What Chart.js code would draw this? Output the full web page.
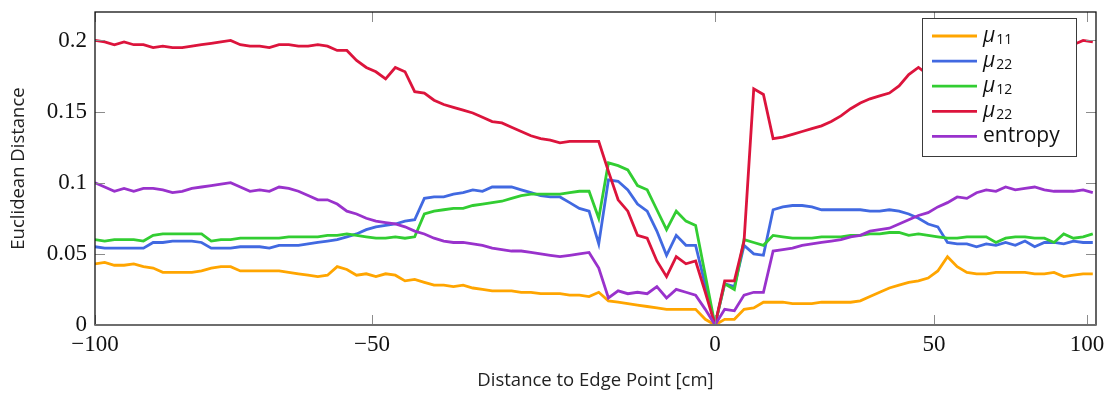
<!DOCTYPE html>
<html>
<head>
<meta charset="utf-8">
<script src="https://cdn.jsdelivr.net/npm/chart.js@4.4.1/dist/chart.umd.min.js"></script>
<style>
	html, body { margin: 0; padding: 0; background: #fff; }
</style>
</head>
<body>
<canvas id="chart" width="1113" height="394"></canvas>
<script>
"use strict";

// x axis: distance labels (cm) and the sample position each label sits at
var xTickLabels = [-100, -50, 0, 50, 100];
var xTickSamples = [0, 28.6, 64, 86.6, 102.4];
var yTicks = [0, 0.05, 0.1, 0.15, 0.2];

var mu11 = [
	0.043, 0.044, 0.042, 0.042, 0.043, 0.041, 0.040, 0.037, 0.037, 0.037,
	0.037, 0.038, 0.040, 0.041, 0.041, 0.038, 0.038, 0.038, 0.038, 0.038,
	0.037, 0.036, 0.035, 0.034, 0.035, 0.041, 0.039, 0.035, 0.036, 0.034,
	0.036, 0.035, 0.031, 0.032, 0.030, 0.028, 0.028, 0.027, 0.028, 0.026,
	0.025, 0.024, 0.024, 0.024, 0.023, 0.023, 0.022, 0.022, 0.022, 0.021,
	0.021, 0.020, 0.023, 0.017, 0.016, 0.015, 0.014, 0.013, 0.012, 0.011,
	0.011, 0.011, 0.011, 0.004, 0.000, 0.004, 0.004, 0.011, 0.012, 0.016,
	0.016, 0.016, 0.015, 0.015, 0.015, 0.016, 0.016, 0.016, 0.016, 0.017,
	0.020, 0.023, 0.026, 0.028, 0.030, 0.031, 0.033, 0.038, 0.048, 0.041,
	0.037, 0.036, 0.036, 0.037, 0.037, 0.037, 0.037, 0.036, 0.036, 0.037,
	0.034, 0.035, 0.036, 0.036
];

var mu22a = [
	0.055, 0.054, 0.054, 0.054, 0.054, 0.054, 0.058, 0.058, 0.059, 0.059,
	0.059, 0.058, 0.054, 0.054, 0.054, 0.055, 0.055, 0.055, 0.054, 0.056,
	0.056, 0.056, 0.057, 0.058, 0.059, 0.060, 0.062, 0.064, 0.067, 0.069,
	0.070, 0.071, 0.073, 0.074, 0.089, 0.090, 0.090, 0.092, 0.093, 0.095,
	0.094, 0.097, 0.097, 0.097, 0.095, 0.093, 0.091, 0.090, 0.090, 0.086,
	0.082, 0.080, 0.057, 0.102, 0.101, 0.095, 0.085, 0.080, 0.066, 0.049,
	0.063, 0.056, 0.056, 0.028, 0.000, 0.029, 0.027, 0.056, 0.050, 0.049,
	0.081, 0.083, 0.084, 0.084, 0.083, 0.081, 0.081, 0.081, 0.081, 0.081,
	0.080, 0.080, 0.081, 0.080, 0.078, 0.075, 0.071, 0.069, 0.058, 0.057,
	0.057, 0.055, 0.057, 0.056, 0.058, 0.056, 0.059, 0.055, 0.058, 0.058,
	0.057, 0.059, 0.058, 0.058
];

var mu12 = [
	0.060, 0.059, 0.060, 0.060, 0.060, 0.059, 0.063, 0.064, 0.064, 0.064,
	0.064, 0.064, 0.059, 0.060, 0.060, 0.061, 0.061, 0.061, 0.061, 0.061,
	0.062, 0.062, 0.062, 0.062, 0.063, 0.063, 0.064, 0.063, 0.062, 0.061,
	0.061, 0.062, 0.061, 0.062, 0.078, 0.080, 0.081, 0.082, 0.082, 0.084,
	0.085, 0.086, 0.087, 0.089, 0.091, 0.092, 0.092, 0.092, 0.092, 0.093,
	0.094, 0.094, 0.075, 0.114, 0.112, 0.109, 0.098, 0.095, 0.081, 0.067,
	0.080, 0.073, 0.070, 0.035, 0.000, 0.029, 0.025, 0.060, 0.058, 0.056,
	0.063, 0.062, 0.061, 0.061, 0.061, 0.062, 0.062, 0.062, 0.063, 0.063,
	0.064, 0.064, 0.065, 0.065, 0.063, 0.064, 0.063, 0.062, 0.061, 0.061,
	0.062, 0.062, 0.062, 0.058, 0.061, 0.062, 0.062, 0.061, 0.061, 0.058,
	0.064, 0.061, 0.062, 0.064
];

var mu22b = [
	0.200, 0.199, 0.197, 0.199, 0.197, 0.197, 0.195, 0.196, 0.195, 0.195,
	0.196, 0.197, 0.198, 0.199, 0.200, 0.197, 0.196, 0.196, 0.195, 0.197,
	0.197, 0.196, 0.196, 0.197, 0.196, 0.193, 0.193, 0.186, 0.181, 0.178,
	0.173, 0.181, 0.178, 0.164, 0.163, 0.158, 0.155, 0.153, 0.151, 0.149,
	0.146, 0.143, 0.142, 0.139, 0.136, 0.133, 0.131, 0.130, 0.128, 0.129,
	0.129, 0.129, 0.129, 0.108, 0.088, 0.080, 0.063, 0.061, 0.045, 0.034,
	0.048, 0.043, 0.045, 0.023, 0.000, 0.031, 0.031, 0.059, 0.166, 0.162,
	0.131, 0.132, 0.134, 0.136, 0.138, 0.140, 0.143, 0.147, 0.152, 0.156,
	0.159, 0.161, 0.163, 0.168, 0.176, 0.181, 0.176, 0.179, 0.186, 0.191,
	0.193, 0.190, 0.193, 0.194, 0.195, 0.194, 0.196, 0.197, 0.194, 0.196,
	0.197, 0.197, 0.200, 0.199
];

var entropy = [
	0.100, 0.097, 0.094, 0.096, 0.094, 0.096, 0.096, 0.095, 0.093, 0.094,
	0.096, 0.097, 0.098, 0.099, 0.100, 0.097, 0.094, 0.095, 0.094, 0.097,
	0.096, 0.094, 0.091, 0.088, 0.088, 0.085, 0.080, 0.078, 0.075, 0.073,
	0.072, 0.071, 0.069, 0.066, 0.064, 0.061, 0.059, 0.058, 0.058, 0.057,
	0.056, 0.054, 0.053, 0.052, 0.052, 0.051, 0.050, 0.049, 0.048, 0.049,
	0.050, 0.051, 0.040, 0.019, 0.024, 0.022, 0.023, 0.022, 0.027, 0.019,
	0.025, 0.023, 0.021, 0.011, 0.000, 0.011, 0.010, 0.021, 0.023, 0.023,
	0.052, 0.053, 0.054, 0.056, 0.057, 0.058, 0.059, 0.060, 0.062, 0.063,
	0.066, 0.067, 0.068, 0.071, 0.074, 0.077, 0.079, 0.083, 0.086, 0.090,
	0.089, 0.093, 0.095, 0.094, 0.097, 0.095, 0.096, 0.097, 0.095, 0.094,
	0.094, 0.094, 0.095, 0.093
];

var seriesNames = ["μ11", "μ22", "μ12", "μ22", "entropy"];
var seriesData = [mu11, mu22a, mu12, mu22b, entropy];
var seriesColors = ["#ffa500", "#4169e1", "#32cd32", "#dc143c", "#9932cc"];

// one label per sample so the line sits on the sample index
var sampleIdx = mu11.map(function (v, i) { return i; });

function fmtMinus(v) {
	return v < 0 ? "\u2212" + Math.abs(v) : String(v);
}

// inward tick marks on all four sides plus the frame
var axisFrame = {
	id: "axisFrame",
	afterDraw: function (chart) {
		var ctx = chart.ctx, a = chart.chartArea;
		var xs = chart.scales.x, ys = chart.scales.y;
		var tl = 10;
		ctx.save();
		ctx.strokeStyle = "#8c8c8c";
		ctx.lineWidth = 1;
		ctx.beginPath();
		xs.ticks.forEach(function (t) {
			var px = Math.round(xs.getPixelForValue(t.value)) + 0.5;
			ctx.moveTo(px, a.bottom); ctx.lineTo(px, a.bottom - tl);
			ctx.moveTo(px, a.top); ctx.lineTo(px, a.top + tl);
		});
		ys.ticks.forEach(function (t) {
			var py = Math.round(ys.getPixelForValue(t.value)) + 0.5;
			ctx.moveTo(a.left, py); ctx.lineTo(a.left + tl, py);
			ctx.moveTo(a.right, py); ctx.lineTo(a.right - tl, py);
		});
		ctx.stroke();

		ctx.strokeStyle = "#111";
		ctx.lineWidth = 1.3;
		ctx.strokeRect(a.left, a.top, a.right - a.left, a.bottom - a.top);
		ctx.strokeStyle = "#6e6e6e";
		ctx.lineWidth = 2;
		ctx.beginPath();
		ctx.moveTo(a.left, a.bottom); ctx.lineTo(a.right, a.bottom);
		ctx.stroke();
		ctx.restore();
	}
};

// boxed legend in the upper right corner of the plot
var legendBox = {
	id: "legendBox",
	afterDraw: function (chart) {
		var ctx = chart.ctx, a = chart.chartArea;
		var w = 154, h = 138, rowH = 25.1;
		var x0 = a.right - 20 - w, y0 = a.top + 6;
		ctx.save();
		ctx.fillStyle = "#fff";
		ctx.fillRect(x0, y0, w, h);
		ctx.strokeStyle = "#3a3a3a";
		ctx.lineWidth = 1;
		ctx.strokeRect(x0 + 0.5, y0 + 0.5, w, h);

		chart.data.datasets.forEach(function (ds, i) {
			var cy = y0 + 18 + i * rowH;
			ctx.strokeStyle = ds.borderColor;
			ctx.lineWidth = 2.8;
			ctx.beginPath();
			ctx.moveTo(x0 + 10, cy);
			ctx.lineTo(x0 + 55, cy);
			ctx.stroke();

			ctx.fillStyle = "#111";
			ctx.textAlign = "left";
			ctx.textBaseline = "alphabetic";
			var tx = x0 + 61;
			var m = /^(μ)(\d+)$/.exec(ds.label);
			if (m) {
				ctx.font = "italic 21px 'Open Sans'";
				ctx.fillText(m[1], tx, cy + 6);
				var mw = ctx.measureText(m[1]).width;
				ctx.font = "14px 'Open Sans'";
				ctx.fillText(m[2], tx + mw + 1, cy + 7.6);
			} else {
				ctx.font = "21px 'Open Sans'";
				ctx.fillText(ds.label, tx, cy + 5.7);
			}
		});
		ctx.restore();
	}
};

var datasets = seriesNames.map(function (name, i) {
	return {
		label: name,
		data: seriesData[i],
		borderColor: seriesColors[i],
		backgroundColor: seriesColors[i],
		borderWidth: 2.8,
		pointRadius: 0,
		tension: 0,
		fill: false,
		order: seriesNames.length - i
	};
});

new Chart(document.getElementById("chart"), {
	type: "line",
	data: { labels: sampleIdx, datasets: datasets },
	options: {
		responsive: false,
		animation: false,
		devicePixelRatio: 1,
		layout: { padding: { left: 0, right: 17, top: 12, bottom: 0 } },
		plugins: {
			legend: { display: false },
			tooltip: { enabled: false }
		},
		scales: {
			x: {
				type: "linear",
				min: 0,
				max: 103.33,
				grid: { display: false, drawTicks: false },
				border: { display: false },
				afterBuildTicks: function (s) {
					s.ticks = xTickSamples.map(function (v) { return { value: v }; });
				},
				afterFit: function (s) {
					s.height = 69;
					s.paddingLeft = 0;
					s.paddingRight = 0;
				},
				ticks: {
					autoSkip: false,
					maxRotation: 0,
					padding: 6,
					color: "#111",
					font: { family: "'Liberation Serif'", size: 23 },
					callback: function (v, i) { return fmtMinus(xTickLabels[i]); }
				},
				title: {
					display: true,
					text: "Distance to Edge Point [cm]",
					color: "#222",
					font: { family: "'Open Sans'", size: 18.5 },
					padding: { top: 0, bottom: 2 }
				}
			},
			y: {
				min: 0,
				max: 0.22,
				grid: { display: false, drawTicks: false },
				border: { display: false },
				afterBuildTicks: function (s) {
					s.ticks = yTicks.map(function (v) { return { value: v }; });
				},
				afterFit: function (s) {
					s.width = 95;
					s.paddingTop = 0;
					s.paddingBottom = 0;
				},
				ticks: {
					padding: 8,
					color: "#111",
					font: { family: "'Liberation Serif'", size: 23 },
					callback: function (v) { return String(v); }
				},
				title: {
					display: true,
					text: "Euclidean Distance",
					color: "#222",
					font: { family: "'Open Sans'", size: 18.5 },
					padding: { top: 8, bottom: 0 }
				}
			}
		}
	},
	plugins: [axisFrame, legendBox]
});
</script>
</body>
</html>
